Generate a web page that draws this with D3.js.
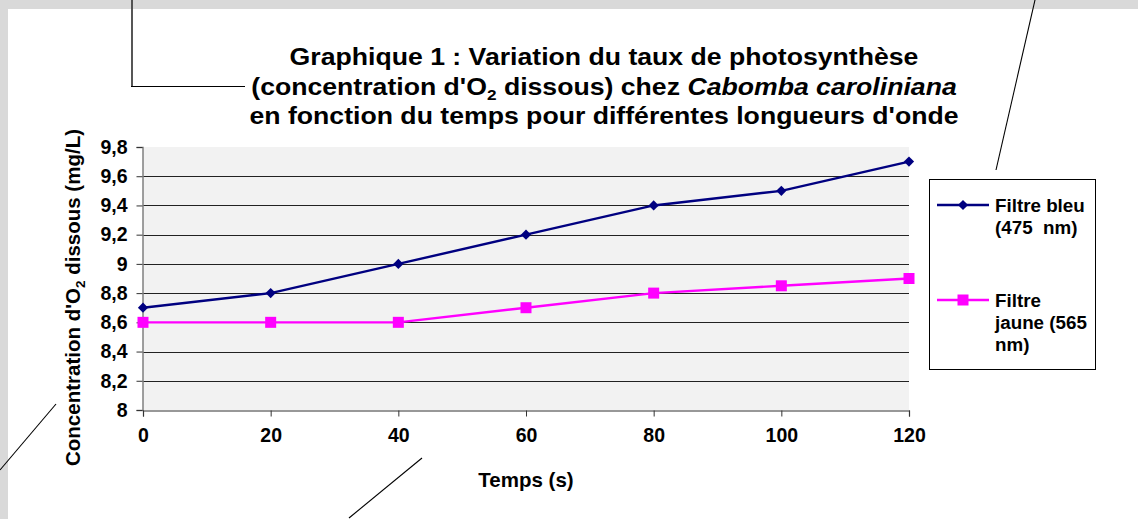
<!DOCTYPE html>
<html><head><meta charset="utf-8">
<script src="https://cdn.jsdelivr.net/npm/d3@7"></script>
<style>
html,body{margin:0;padding:0;background:#fff;}
svg{display:block;font-family:"Liberation Sans",Arial,sans-serif;}
</style></head>
<body>
<svg id="chart" width="1138" height="519"></svg>
<script>
const times = [0, 20, 40, 60, 80, 100, 120];
const blueValues = [8.7, 8.8, 9.0, 9.2, 9.4, 9.5, 9.7];
const yellowValues = [8.6, 8.6, 8.6, 8.7, 8.8, 8.85, 8.9];
const yTicks = [8, 8.2, 8.4, 8.6, 8.8, 9, 9.2, 9.4, 9.6, 9.8];
const xTicks = [0, 20, 40, 60, 80, 100, 120];
const seriesNames = [["Filtre bleu", "(475  nm)"], ["Filtre", "jaune (565", "nm)"]];

const svg = d3.select("#chart");
const W = 1138, H = 519;

// frame
svg.append("rect").attr("x",0).attr("y",0).attr("width",W).attr("height",H).attr("fill","#fff");
svg.append("rect").attr("x",0).attr("y",0).attr("width",W).attr("height",9).attr("fill","#d9d9d9");
svg.append("rect").attr("x",0).attr("y",0).attr("width",8).attr("height",H).attr("fill","#d9d9d9");

const x = d3.scaleLinear().domain([0,120]).range([143,909]);
const y = d3.scaleLinear().domain([8,9.8]).range([410,147]);

// plot bg
svg.append("rect").attr("x",x(0)).attr("y",y(9.8)).attr("width",x(120)-x(0)).attr("height",y(8)-y(9.8)).attr("fill","#f2f2f2");

// gridlines
svg.append("g").selectAll("line").data(yTicks.filter(d=>d>8 && d<9.8)).join("line")
  .attr("x1",x(0)).attr("x2",x(120)).attr("y1",d=>Math.round(y(d))+0.5).attr("y2",d=>Math.round(y(d))+0.5)
  .attr("stroke","#222").attr("stroke-width",1);

const fmt = d => String(d).replace(".", ",");

// y axis
const yAxis = svg.append("g").attr("transform",`translate(${x(0)-0.5},0)`)
  .call(d3.axisLeft(y).tickValues(yTicks).tickFormat(fmt).tickSize(6).tickPadding(9));
yAxis.select(".domain").attr("stroke","#808080").attr("stroke-width",1.5);
yAxis.selectAll(".tick line").attr("stroke","#333");
yAxis.selectAll("text").attr("font-size",19.5).attr("font-weight","bold").attr("fill","#000");

// x axis
const xAxis = svg.append("g").attr("transform",`translate(0,${y(8)+0.5})`)
  .call(d3.axisBottom(x).tickValues(xTicks).tickSize(6).tickPadding(12));
xAxis.select(".domain").attr("stroke","#333").attr("stroke-width",1.2);
xAxis.selectAll(".tick line").attr("stroke","#333");
xAxis.selectAll("text").attr("font-size",19.5).attr("font-weight","bold").attr("fill","#000");

// lines
const line = d3.line().x((d,i)=>x(times[i])).y(d=>y(d));
svg.append("path").datum(blueValues).attr("d",line).attr("fill","none").attr("stroke","#000080").attr("stroke-width",2.4);
svg.append("path").datum(yellowValues).attr("d",line).attr("fill","none").attr("stroke","#ff00ff").attr("stroke-width",2.4);

const diamond = d3.symbol().type(d3.symbolSquare).size(52);
svg.append("g").selectAll("path").data(blueValues).join("path")
  .attr("d",diamond).attr("transform",(d,i)=>`translate(${x(times[i])},${y(d)}) rotate(45)`).attr("fill","#000080");
svg.append("g").selectAll("rect").data(yellowValues).join("rect")
  .attr("x",(d,i)=>x(times[i])-5.5).attr("y",d=>y(d)-5.5).attr("width",11).attr("height",11).attr("fill","#ff00ff");

// title
const title = svg.append("text").attr("transform","translate(604,0) scale(1.11,1)")
  .attr("font-weight","bold").attr("font-size",24).attr("text-anchor","middle").attr("fill","#000");
title.append("tspan").attr("x",0).attr("y",65).text("Graphique 1 : Variation du taux de photosynthèse");
title.append("tspan").attr("x",0).attr("y",95.5).text("(concentration d'O");
title.append("tspan").attr("font-size",15.5).attr("dy",5).text("2");
title.append("tspan").attr("dy",-5).text(" dissous) chez ");
title.append("tspan").attr("font-style","italic").text("Cabomba caroliniana");
title.append("tspan").attr("x",0).attr("y",124.5).text("en fonction du temps pour différentes longueurs d'onde");

// axis titles
svg.append("text").attr("x",x(60)).attr("y",487).attr("text-anchor","middle").attr("font-size",20.5).attr("font-weight","bold").text("Temps (s)");
const yt = svg.append("text").attr("transform","translate(80,297.5) rotate(-90)").attr("text-anchor","middle").attr("font-size",20.5).attr("font-weight","bold");
yt.append("tspan").text("Concentration d'O");
yt.append("tspan").attr("font-size",13.5).attr("dy",5).text("2");
yt.append("tspan").attr("dy",-5).text(" dissous (mg/L)");

// legend
svg.append("rect").attr("x",929.5).attr("y",179.5).attr("width",166).attr("height",190).attr("fill","#fff").attr("stroke","#000").attr("stroke-width",1);
const lg = svg.append("g");
const legY = [205, 300];
const legColors = ["#000080","#ff00ff"];
lg.selectAll("line").data(legY).join("line").attr("x1",937).attr("x2",989).attr("y1",d=>d).attr("y2",d=>d)
  .attr("stroke",(d,i)=>legColors[i]).attr("stroke-width",2.4);
lg.append("path").attr("d",diamond).attr("transform",`translate(963,${legY[0]}) rotate(45)`).attr("fill",legColors[0]);
lg.append("rect").attr("x",957.5).attr("y",legY[1]-5.5).attr("width",11).attr("height",11).attr("fill",legColors[1]);
seriesNames.forEach((lines,i)=>{
  const t = lg.append("text").attr("font-size",18.8).attr("font-weight","bold").attr("fill","#000");
  lines.forEach((s,j)=>t.append("tspan").attr("x",995).attr("y",legY[i]+6.5+j*22).attr("xml:space","preserve").text(s));
});

// annotation lines
svg.append("path").attr("d",d3.line()([[132,0],[132,86.5]])).attr("fill","none").attr("stroke","#444").attr("stroke-width",1.8);
const ann = [
  [[131,86.5],[245,86.5]],
  [[1035,0],[996,170]],
  [[0,470],[56,404]],
  [[349,518],[422,458]]
];
svg.append("g").selectAll("path").data(ann).join("path")
  .attr("d",d=>d3.line()(d)).attr("fill","none").attr("stroke","#000").attr("stroke-width",1.1);
</script>
</body></html>
